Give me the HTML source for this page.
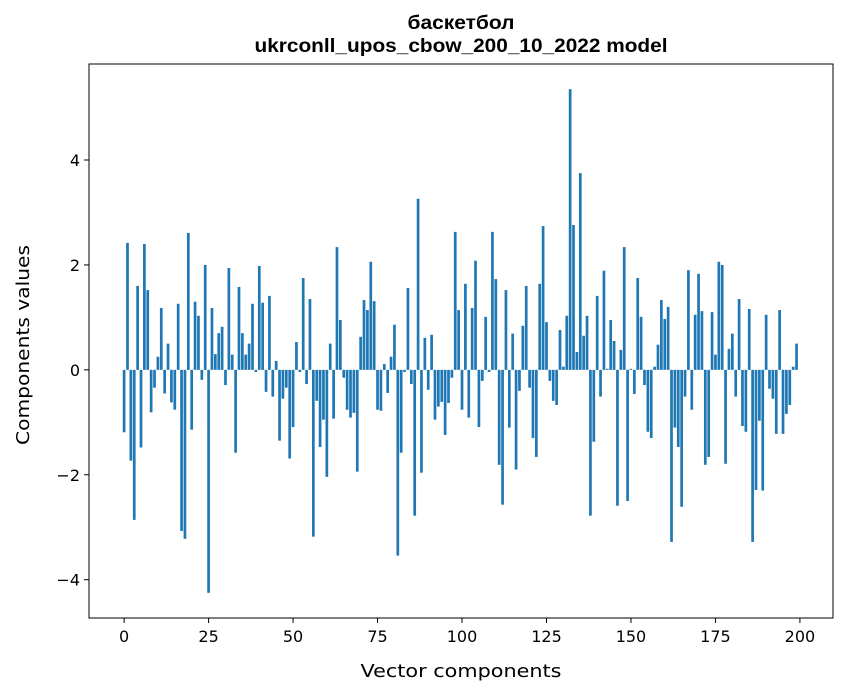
<!DOCTYPE html>
<html><head><meta charset="utf-8"><style>
body{margin:0;background:#fff;font-family:"DejaVu Sans",sans-serif;}
svg text{font-family:"DejaVu Sans",sans-serif;}
</style></head><body>
<svg id="chart" width="847" height="696" viewBox="0 0 847 696" xmlns="http://www.w3.org/2000/svg">
<rect width="847" height="696" fill="#fff"/>
<text x="461" y="29" text-anchor="middle" font-size="19" font-weight="bold" style="font-family:'Liberation Sans',sans-serif" textLength="107" lengthAdjust="spacingAndGlyphs">баскетбол</text>
<text x="461" y="52" text-anchor="middle" font-size="19" font-weight="bold" style="font-family:'Liberation Sans',sans-serif" textLength="413" lengthAdjust="spacingAndGlyphs">ukrconll_upos_cbow_200_10_2022 model</text>
<g id="bars"></g>
<g id="axes"></g>
<rect x="89" y="64" width="744" height="554" fill="none" stroke="#000" stroke-width="1"/>
<text x="461" y="677" text-anchor="middle" font-size="18" textLength="201" lengthAdjust="spacingAndGlyphs">Vector components</text>
<text transform="translate(29,345) rotate(-90)" text-anchor="middle" font-size="18" textLength="200" lengthAdjust="spacingAndGlyphs">Components values</text>
</svg>
<script>
const values = [-1.19,2.42,-1.73,-2.86,1.6,-1.48,2.4,1.52,-0.81,-0.34,0.25,1.18,-0.45,0.5,-0.62,-0.76,1.26,-3.07,-3.22,2.61,
-1.14,1.3,1.03,-0.19,2.0,-4.25,1.18,0.3,0.7,0.82,-0.29,1.94,0.29,-1.58,1.58,0.7,0.29,0.5,1.26,-0.04,
1.98,1.28,-0.42,1.41,-0.51,0.17,-1.35,-0.55,-0.34,-1.69,-1.09,0.53,-0.04,1.75,-0.27,1.35,-3.18,-0.59,-1.47,-0.95,
-2.04,0.5,-0.93,2.34,0.95,-0.15,-0.76,-0.91,-0.82,-1.94,0.63,1.33,1.14,2.06,1.31,-0.76,-0.78,0.11,-0.44,0.25,
0.86,-3.54,-1.58,-0.04,1.56,-0.27,-2.78,3.26,-1.96,0.61,-0.38,0.67,-0.95,-0.7,-0.61,-1.24,-0.63,-0.15,2.63,1.14,
-0.76,1.64,-0.91,1.18,2.08,-1.09,-0.21,1.01,-0.04,2.63,1.73,-1.81,-2.57,1.52,-1.1,0.69,-1.9,-0.4,0.84,1.6,
-0.34,-1.3,-1.66,1.64,2.74,0.91,-0.21,-0.59,-0.67,0.76,0.06,1.03,5.35,2.76,0.34,3.75,0.65,1.03,-2.78,-1.37,
1.41,-0.51,1.89,0.02,0.95,0.55,-2.59,0.38,2.34,-2.5,0.02,-0.46,1.75,1.01,-0.29,-1.18,-1.3,0.06,0.48,1.33,
0.97,1.2,-3.28,-1.1,-1.47,-2.61,-0.51,1.9,-0.76,1.05,1.83,1.12,-1.81,-1.66,1.1,0.29,2.06,2.0,-1.79,0.4,
0.69,-0.51,1.35,-1.07,-1.18,1.16,-3.28,-2.29,-0.97,-2.3,1.05,-0.36,-0.55,-1.22,1.14,-1.22,-0.84,-0.67,0.06,0.5];
const xTicks = [0,25,50,75,100,125,150,175,200];
const yTicks = [-4,-2,0,2,4];
const yTickLabels = ["\u22124","\u22122","0","2","4"];

const L=89,R=833,T=64,B=618;
const xMin=-10.39,xMax=209.79,yMin=-4.73,yMax=5.83;
const sx=v=>L+(v-xMin)/(xMax-xMin)*(R-L);
const sy=v=>B-(v-yMin)/(yMax-yMin)*(B-T);
const NS="http://www.w3.org/2000/svg";
const gb=document.getElementById('bars');
values.forEach((v,i)=>{
  const r=document.createElementNS(NS,'rect');
  const x0=sx(i-0.4),x1=sx(i+0.4);
  const y0=sy(Math.max(v,0)),y1=sy(Math.min(v,0));
  r.setAttribute('x',x0);r.setAttribute('width',x1-x0);
  r.setAttribute('y',y0);r.setAttribute('height',Math.max(y1-y0,0.3));
  r.setAttribute('fill','#1f77b4');
  
  
  gb.appendChild(r);
});
const ga=document.getElementById('axes');
xTicks.forEach(t=>{
  const x=sx(t);
  const l=document.createElementNS(NS,'line');
  l.setAttribute('x1',x);l.setAttribute('x2',x);l.setAttribute('y1',B);l.setAttribute('y2',B+5);l.setAttribute('stroke','#000');
  
  
  ga.appendChild(l);
  const tx=document.createElementNS(NS,'text');
  tx.setAttribute('x',x);tx.setAttribute('y',B+24);tx.setAttribute('text-anchor','middle');tx.setAttribute('font-size','16');
  tx.textContent=t;
  
  
  ga.appendChild(tx);
});
yTicks.forEach((t,i)=>{
  const y=sy(t);
  const l=document.createElementNS(NS,'line');
  l.setAttribute('x1',L-5);l.setAttribute('x2',L);l.setAttribute('y1',y);l.setAttribute('y2',y);l.setAttribute('stroke','#000');
  
  
  ga.appendChild(l);
  const tx=document.createElementNS(NS,'text');
  tx.setAttribute('x',L-9);tx.setAttribute('y',y+6);tx.setAttribute('text-anchor','end');tx.setAttribute('font-size','16');
  tx.textContent=yTickLabels[i];
  
  
  ga.appendChild(tx);
});
</script>
</body></html>
